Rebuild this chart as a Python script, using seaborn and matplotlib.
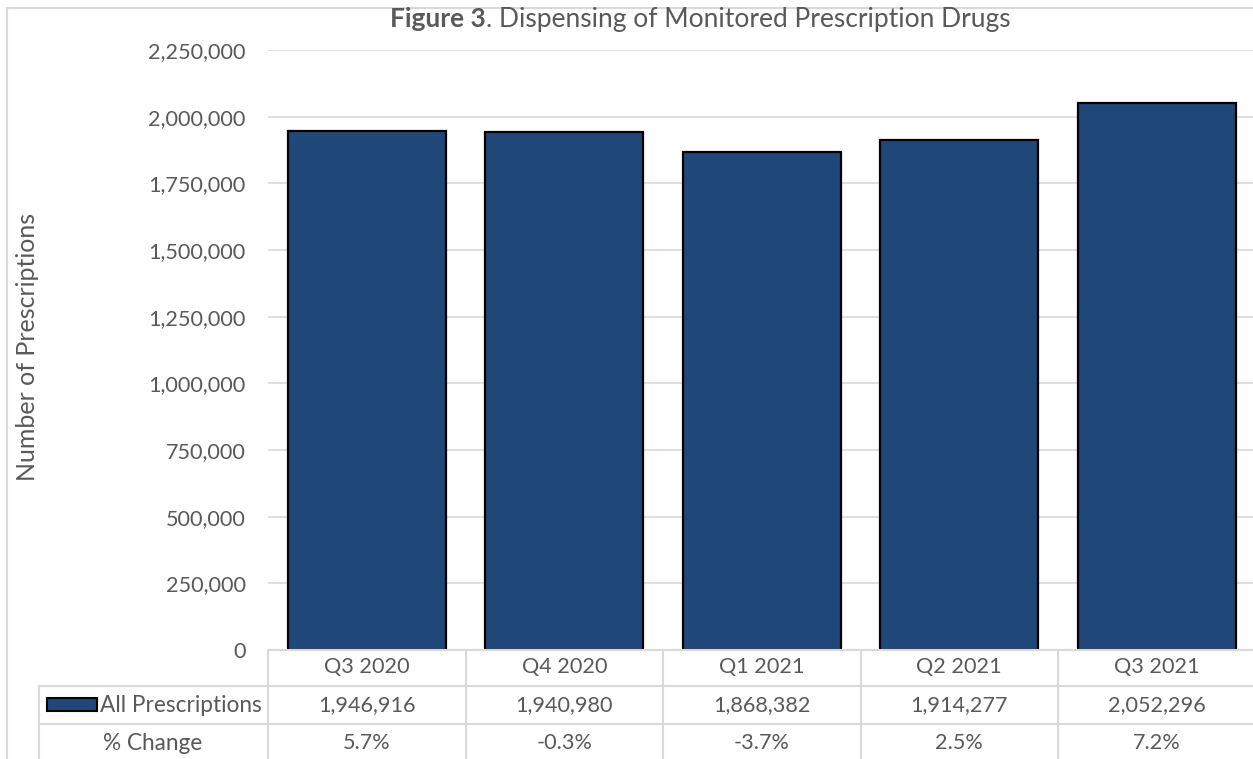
import matplotlib
matplotlib.use("Agg")
import matplotlib.pyplot as plt
import matplotlib.transforms as mtransforms
from matplotlib.patches import Rectangle
from matplotlib.lines import Line2D
import seaborn as sns

# Data
quarters = ["Q3 2020", "Q4 2020", "Q1 2021", "Q2 2021", "Q3 2021"]
prescriptions = [1946916, 1940980, 1868382, 1914277, 2052296]
pct_change = ["5.7%", "-0.3%", "-3.7%", "2.5%", "7.2%"]
y_ticks = [0, 250000, 500000, 750000, 1000000, 1250000, 1500000, 1750000, 2000000, 2250000]

bar_color = "#1F4778"
text_color = "#595959"
line_color = "#D9D9D9"

sns.set_theme(style="white")
plt.rcParams["font.family"] = ["Lato", "DejaVu Sans"]

W, H = 1253, 759
fig = plt.figure(figsize=(W / 100, H / 100), dpi=100)

def fx(px):
    return px / W

def fy(py):
    return 1 - py / H

num_size = 15.6
lab_size = 16.3

# plot area
ax = fig.add_axes([fx(268), fy(650), fx(1255.5) - fx(268), fy(50) - fy(650)])
sns.barplot(x=quarters, y=prescriptions, color=bar_color, saturation=1,
            edgecolor="black", linewidth=1.6, width=0.8, ax=ax, zorder=3)
ax.set_ylim(0, 2250000)
ax.set_yticks(y_ticks)
ax.yaxis.set_major_formatter(matplotlib.ticker.StrMethodFormatter("{x:,.0f}"))
ax.tick_params(axis="y", length=0, pad=16, labelsize=num_size, labelcolor=text_color)
ax.set_xticks([])
ax.set_xlabel("")
ax.set_ylabel("")
ax.grid(axis="y", color=line_color, linewidth=1.2, zorder=0)
ax.set_axisbelow(True)
for s in ax.spines.values():
    s.set_visible(False)

# title: bold "Figure 3" followed by plain text, centred as a whole
t1 = fig.text(0, fy(19), "Figure 3", fontsize=19, fontweight="bold", color=text_color, va="center")
t2 = fig.text(0, fy(19), ". Dispensing of Monitored Prescription Drugs", fontsize=19,
              color=text_color, va="center")
fig.canvas.draw()
r = fig.canvas.get_renderer()
w1 = t1.get_window_extent(r).width
w2 = t2.get_window_extent(r).width
x0 = 700 - (w1 + w2) / 2
t1.set_x(fx(x0))
t2.set_x(fx(x0 + w1))

fig.text(fx(28), fy(347), "Number of Prescriptions", rotation=90, ha="center", va="center",
         fontsize=18, color=text_color)

# chart border (cropped at right and bottom)
fig.add_artist(Line2D([fx(7), fx(7)], [fy(8), 0], color=line_color, linewidth=1.5))
fig.add_artist(Line2D([fx(7), 1], [fy(8), fy(8)], color=line_color, linewidth=1.5))

# data table under the axis
tr = mtransforms.blended_transform_factory(ax.transData, fig.transFigure)
row_y = [667, 705, 743]
for i, q in enumerate(quarters):
    ax.text(i, fy(row_y[0]), q, transform=tr, ha="center", va="center",
            fontsize=num_size, color=text_color, clip_on=False)
    ax.text(i, fy(row_y[1]), f"{prescriptions[i]:,}", transform=tr, ha="center", va="center",
            fontsize=num_size, color=text_color, clip_on=False)
    ax.text(i, fy(row_y[2]), pct_change[i], transform=tr, ha="center", va="center",
            fontsize=num_size, color=text_color, clip_on=False)

# table grid lines
for b in [x - 0.5 for x in range(len(quarters) + 1)]:
    ax.add_artist(Line2D([b, b], [fy(650), 0], transform=tr, color=line_color,
                         linewidth=1.5, clip_on=False))
fig.add_artist(Line2D([fx(268), 1], [fy(650), fy(650)], color=line_color, linewidth=1.5))
for yy in [686, 724]:
    fig.add_artist(Line2D([fx(39), 1], [fy(yy), fy(yy)], color=line_color, linewidth=1.5))
fig.add_artist(Line2D([fx(39), fx(39)], [fy(686), 0], color=line_color, linewidth=1.5))

# row headers
fig.add_artist(Rectangle((fx(47), fy(711)), fx(97) - fx(47), fy(698) - fy(711),
                         facecolor=bar_color, edgecolor="black", linewidth=1.5,
                         transform=fig.transFigure))
fig.text(fx(262), fy(row_y[1]), "All Prescriptions", ha="right", va="center",
         fontsize=lab_size, color=text_color)
fig.text(fx(153), fy(row_y[2]), "% Change", ha="center", va="center",
         fontsize=lab_size, color=text_color)

fig.savefig("out.png", dpi=100)
